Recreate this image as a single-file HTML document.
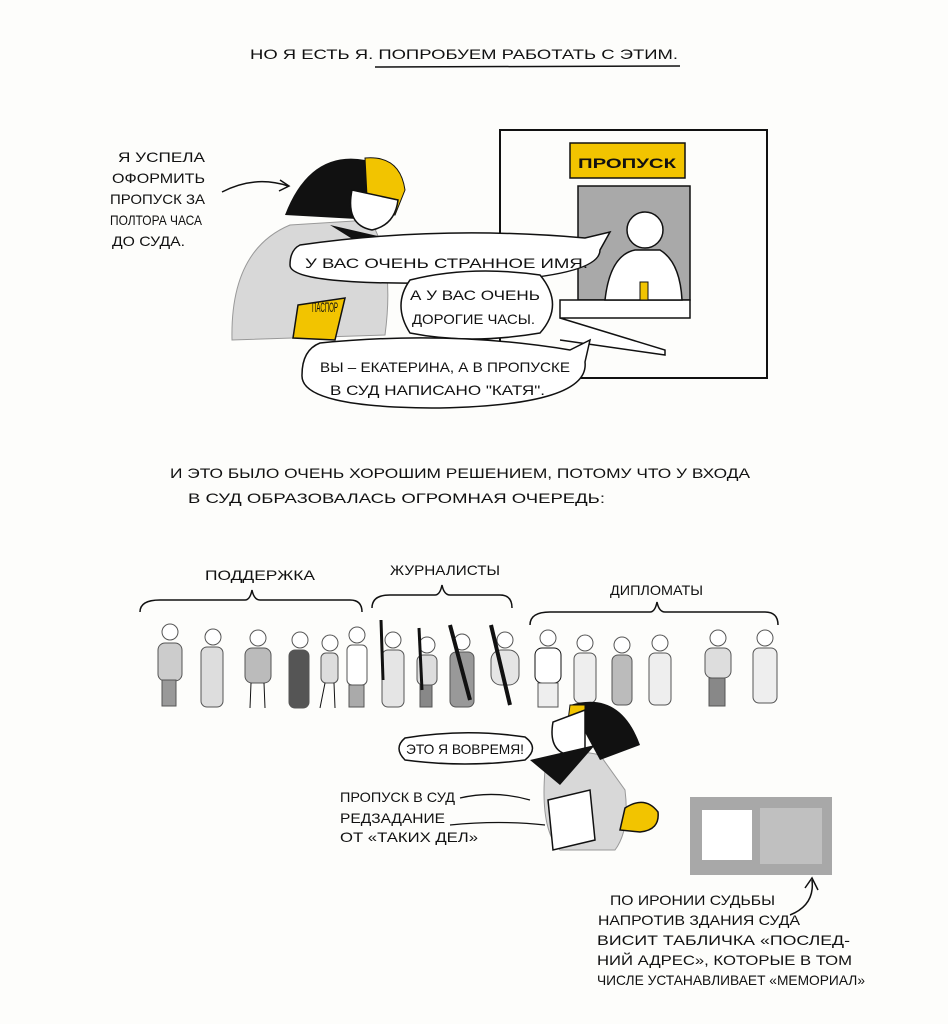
<!DOCTYPE html>
<html><head><meta charset="utf-8"><style>
html,body{margin:0;padding:0;background:#fdfdfb;}
svg{display:block}
text{font-family:"Liberation Sans","DejaVu Sans",sans-serif;fill:#111;font-size:14px;}
</style></head><body>
<svg width="948" height="1024" viewBox="0 0 948 1024" xmlns="http://www.w3.org/2000/svg">
<rect width="948" height="1024" fill="#fdfdfb"/>
<text x="250" y="59" font-size="15" textLength="428" lengthAdjust="spacingAndGlyphs">НО Я ЕСТЬ Я. ПОПРОБУЕМ РАБОТАТЬ С ЭТИМ.</text>
<line x1="375" y1="67" x2="680" y2="66" stroke="#111" stroke-width="1.5"/>

<text x="118" y="162" textLength="87" lengthAdjust="spacingAndGlyphs">Я УСПЕЛА</text>
<text x="112" y="183" textLength="93" lengthAdjust="spacingAndGlyphs">ОФОРМИТЬ</text>
<text x="110" y="204" textLength="95" lengthAdjust="spacingAndGlyphs">ПРОПУСК ЗА</text>
<text x="110" y="225" textLength="92" lengthAdjust="spacingAndGlyphs">ПОЛТОРА ЧАСА</text>
<text x="112" y="246" textLength="73" lengthAdjust="spacingAndGlyphs">ДО СУДА.</text>
<path d="M222 192 Q255 175 288 186" fill="none" stroke="#111" stroke-width="1.5"/>
<path d="M280 180 L289 186 L279 191" fill="none" stroke="#111" stroke-width="1.5"/>

<rect x="500" y="130" width="267" height="248" fill="none" stroke="#111" stroke-width="2"/>
<rect x="570" y="143" width="115" height="35" fill="#f2c400" stroke="#111" stroke-width="1.5"/>
<text x="578" y="168" font-size="19" font-weight="bold" textLength="98" lengthAdjust="spacingAndGlyphs">ПРОПУСК</text>
<rect x="578" y="186" width="112" height="114" fill="#a9a9a9" stroke="#111" stroke-width="1.5"/>
<path d="M560 300 L690 300 L690 318 L560 318 Z M560 318 L665 350 L665 355 L560 340" fill="#fff" stroke="#111" stroke-width="1.5"/>
<circle cx="645" cy="230" r="18" fill="#fff" stroke="#111" stroke-width="1.5"/>
<path d="M605 300 Q610 255 635 250 L660 250 Q680 262 682 300 Z" fill="#fff" stroke="#111" stroke-width="1.5"/>
<rect x="640" y="282" width="8" height="18" fill="#f2c400" stroke="#111"/>

<path d="M232 340 Q230 250 290 225 L370 220 Q395 260 385 335 Z" fill="#d8d8d8" stroke="#999" stroke-width="1"/>
<path d="M285 215 Q310 150 365 160 L375 220 Z" fill="#111"/>
<path d="M365 158 Q400 155 405 190 L395 215 L368 215 Z" fill="#f2c400" stroke="#111"/>
<path d="M352 190 Q345 225 372 230 Q395 225 398 200 Z" fill="#fff" stroke="#111" stroke-width="1.5"/>
<path d="M330 225 L395 240 L370 250 Z" fill="#111"/>
<path d="M298 305 L345 298 L335 340 L293 338 Z" fill="#f2c400" stroke="#111" stroke-width="1.5"/>
<text x="312" y="312" font-size="7" textLength="26" lengthAdjust="spacingAndGlyphs">ПАСПОР</text>

<path d="M300 245 Q440 225 585 238 L610 232 L600 250 Q600 280 440 283 Q290 285 290 265 Q290 250 300 245 Z" fill="#fff" stroke="#111" stroke-width="1.5"/>
<text x="305" y="268" font-size="15" textLength="283" lengthAdjust="spacingAndGlyphs">У ВАС ОЧЕНЬ СТРАННОЕ ИМЯ.</text>
<path d="M410 280 Q470 265 540 275 Q565 305 540 333 Q470 345 410 333 Q392 305 410 280 Z" fill="#fff" stroke="#111" stroke-width="1.5"/>
<text x="410" y="300" textLength="130" lengthAdjust="spacingAndGlyphs">А У ВАС ОЧЕНЬ</text>
<text x="412" y="324" textLength="123" lengthAdjust="spacingAndGlyphs">ДОРОГИЕ ЧАСЫ.</text>
<path d="M320 343 Q450 330 570 350 L590 340 L585 362 Q590 405 440 408 Q300 408 302 375 Q302 350 320 343 Z" fill="#fff" stroke="#111" stroke-width="1.5"/>
<text x="320" y="372" textLength="250" lengthAdjust="spacingAndGlyphs">ВЫ – ЕКАТЕРИНА, А В ПРОПУСКЕ</text>
<text x="330" y="395" textLength="215" lengthAdjust="spacingAndGlyphs">В СУД НАПИСАНО "КАТЯ".</text>

<text x="170" y="478" font-size="15" textLength="580" lengthAdjust="spacingAndGlyphs">И ЭТО БЫЛО ОЧЕНЬ ХОРОШИМ РЕШЕНИЕМ, ПОТОМУ ЧТО У ВХОДА</text>
<text x="188" y="503" font-size="15" textLength="417" lengthAdjust="spacingAndGlyphs">В СУД ОБРАЗОВАЛАСЬ ОГРОМНАЯ ОЧЕРЕДЬ:</text>

<text x="205" y="580" font-size="13" textLength="110" lengthAdjust="spacingAndGlyphs">ПОДДЕРЖКА</text>
<text x="390" y="575" font-size="13" textLength="110" lengthAdjust="spacingAndGlyphs">ЖУРНАЛИСТЫ</text>
<text x="610" y="595" font-size="13" textLength="93" lengthAdjust="spacingAndGlyphs">ДИПЛОМАТЫ</text>
<path d="M140 612 Q140 600 160 600 L245 600 Q250 600 252 590 Q254 600 260 600 L350 600 Q362 600 362 612" fill="none" stroke="#111" stroke-width="1.5"/>
<path d="M372 608 Q372 595 390 595 L435 595 Q440 595 442 585 Q444 595 450 595 L500 595 Q512 595 512 608" fill="none" stroke="#111" stroke-width="1.5"/>
<path d="M530 625 Q530 612 550 612 L650 612 Q655 612 657 602 Q659 612 665 612 L765 612 Q778 612 778 625" fill="none" stroke="#111" stroke-width="1.5"/>

<g fill="#ccc" stroke="#555" stroke-width="1">
<g transform="translate(170,0)"><circle cx="0" cy="632" r="8" fill="#fff"/><rect x="-12" y="643" width="24" height="38" rx="7"/><rect x="-8" y="680" width="14" height="26" fill="#999"/></g>
<g transform="translate(213,0)"><circle cx="0" cy="637" r="8" fill="#fff"/><rect x="-12" y="647" width="22" height="60" rx="6" fill="#ddd"/></g>
<g transform="translate(258,0)"><circle cx="0" cy="638" r="8" fill="#fff"/><rect x="-13" y="648" width="26" height="35" rx="7" fill="#bbb"/><path d="M-7 683 L-8 708 M6 683 L7 708" stroke="#111"/></g>
<g transform="translate(300,0)"><circle cx="0" cy="640" r="8" fill="#fff"/><rect x="-11" y="650" width="20" height="58" rx="6" fill="#555"/></g>
<g transform="translate(330,0)"><circle cx="0" cy="643" r="8" fill="#fff"/><rect x="-9" y="653" width="17" height="30" rx="5" fill="#ddd"/><path d="M-5 683 L-10 708 M4 683 L5 708" stroke="#111"/></g>
<g transform="translate(357,0)"><circle cx="0" cy="635" r="8" fill="#fff"/><rect x="-10" y="645" width="20" height="40" rx="5" fill="#fff"/><rect x="-8" y="685" width="15" height="22" fill="#aaa"/></g>
<g transform="translate(393,0)"><circle cx="0" cy="640" r="8" fill="#fff"/><rect x="-11" y="650" width="22" height="57" rx="6" fill="#e5e5e5"/><path d="M-12 620 L-10 680" stroke="#111" stroke-width="3"/></g>
<g transform="translate(427,0)"><circle cx="0" cy="645" r="8" fill="#fff"/><rect x="-10" y="655" width="20" height="30" rx="6" fill="#ddd"/><rect x="-7" y="685" width="12" height="22" fill="#888"/><path d="M-8 628 L-5 690" stroke="#111" stroke-width="3"/></g>
<g transform="translate(462,0)"><circle cx="0" cy="642" r="8" fill="#fff"/><rect x="-12" y="652" width="24" height="55" rx="6" fill="#999"/><path d="M-12 625 L8 700" stroke="#111" stroke-width="4"/></g>
<g transform="translate(505,0)"><circle cx="0" cy="640" r="8" fill="#fff"/><rect x="-14" y="650" width="28" height="35" rx="10" fill="#e5e5e5"/><path d="M-14 625 L5 705" stroke="#111" stroke-width="4"/></g>
<g transform="translate(548,0)"><circle cx="0" cy="638" r="8" fill="#fff"/><rect x="-13" y="648" width="26" height="35" rx="7" fill="#fff" stroke="#111"/><rect x="-10" y="683" width="20" height="24" fill="#eee"/></g>
<g transform="translate(585,0)"><circle cx="0" cy="643" r="8" fill="#fff"/><rect x="-11" y="653" width="22" height="50" rx="6" fill="#eee"/></g>
<g transform="translate(622,0)"><circle cx="0" cy="645" r="8" fill="#fff"/><rect x="-10" y="655" width="20" height="50" rx="6" fill="#bbb"/></g>
<g transform="translate(660,0)"><circle cx="0" cy="643" r="8" fill="#fff"/><rect x="-11" y="653" width="22" height="52" rx="6" fill="#eee"/></g>
<g transform="translate(718,0)"><circle cx="0" cy="638" r="8" fill="#fff"/><rect x="-13" y="648" width="26" height="30" rx="7" fill="#ddd"/><rect x="-9" y="678" width="16" height="28" fill="#888"/></g>
<g transform="translate(765,0)"><circle cx="0" cy="638" r="8" fill="#fff"/><rect x="-12" y="648" width="24" height="55" rx="6" fill="#eee"/></g>
</g>

<path d="M545 770 Q560 745 600 755 L625 790 Q630 830 615 850 L560 850 Q540 830 545 770 Z" fill="#d8d8d8" stroke="#999"/>
<path d="M570 705 Q620 690 640 745 L600 760 Z" fill="#111"/>
<path d="M570 705 L585 705 L585 745 L565 745 Z" fill="#f2c400" stroke="#111"/>
<path d="M553 722 Q548 750 568 755 L585 752 L585 710 Z" fill="#fff" stroke="#111" stroke-width="1.5"/>
<path d="M530 760 L595 745 L560 785 Z" fill="#111"/>
<path d="M548 800 L590 790 L595 840 L553 850 Z" fill="#fff" stroke="#111" stroke-width="1.5"/>
<path d="M625 808 Q645 795 658 812 Q660 830 640 832 L620 830 Z" fill="#f2c400" stroke="#111" stroke-width="1.5"/>

<path d="M405 738 Q465 728 525 737 Q540 748 525 760 Q465 768 405 760 Q393 748 405 738 Z" fill="#fff" stroke="#111" stroke-width="1.5"/>
<text x="406" y="754" font-size="13" textLength="118" lengthAdjust="spacingAndGlyphs">ЭТО Я ВОВРЕМЯ!</text>
<text x="340" y="802" font-size="13" textLength="115" lengthAdjust="spacingAndGlyphs">ПРОПУСК В СУД</text>
<text x="340" y="823" font-size="13" textLength="105" lengthAdjust="spacingAndGlyphs">РЕДЗАДАНИЕ</text>
<text x="340" y="842" font-size="13" textLength="138" lengthAdjust="spacingAndGlyphs">ОТ «ТАКИХ ДЕЛ»</text>
<path d="M460 798 Q495 790 530 800" fill="none" stroke="#111" stroke-width="1.3"/>
<path d="M450 825 Q500 820 545 825" fill="none" stroke="#111" stroke-width="1.3"/>

<rect x="690" y="797" width="142" height="78" fill="#a8a8a8"/>
<rect x="702" y="810" width="50" height="50" fill="#fff"/>
<rect x="760" y="808" width="62" height="56" fill="#c0c0c0"/>

<text x="610" y="905" font-size="13" textLength="165" lengthAdjust="spacingAndGlyphs">ПО ИРОНИИ СУДЬБЫ</text>
<text x="598" y="925" font-size="13" textLength="202" lengthAdjust="spacingAndGlyphs">НАПРОТИВ ЗДАНИЯ СУДА</text>
<text x="597" y="945" font-size="13" textLength="253" lengthAdjust="spacingAndGlyphs">ВИСИТ ТАБЛИЧКА «ПОСЛЕД-</text>
<text x="597" y="965" font-size="13" textLength="255" lengthAdjust="spacingAndGlyphs">НИЙ АДРЕС», КОТОРЫЕ В ТОМ</text>
<text x="597" y="985" font-size="13" textLength="268" lengthAdjust="spacingAndGlyphs">ЧИСЛЕ УСТАНАВЛИВАЕТ «МЕМОРИАЛ»</text>
<path d="M790 915 Q815 905 812 880" fill="none" stroke="#111" stroke-width="1.5"/>
<path d="M805 888 L812 878 L818 890" fill="none" stroke="#111" stroke-width="1.5"/>
</svg>
</body></html>
